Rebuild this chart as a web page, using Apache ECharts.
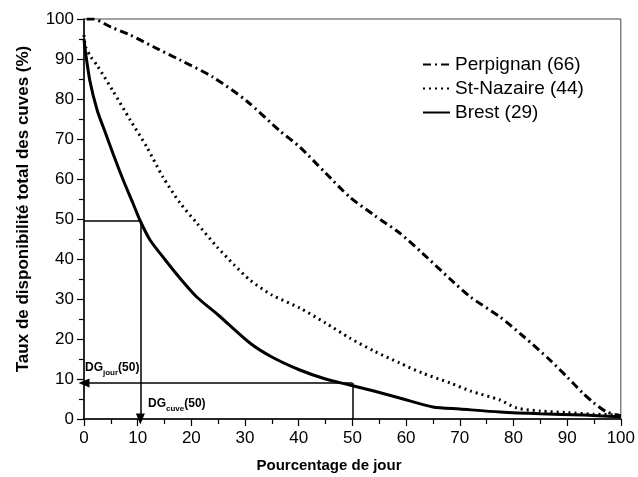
<!DOCTYPE html>
<html>
<head>
<meta charset="utf-8">
<script src="https://cdn.jsdelivr.net/npm/echarts@6/dist/echarts.min.js"></script>
<style>html,body{margin:0;padding:0;background:#fff;}#c{width:638px;height:477px;}</style>
</head>
<body>
<div id="c"></div>
<script>
// ---- data ----
var perpignanX = [0.5, 1.7, 5, 8.6, 13, 17.9, 24, 30.3, 36.5, 40.2, 45, 49.5, 54, 58.8, 63, 68.2, 72, 77.5, 82, 86.8, 90, 92.9, 95, 97.4, 100];
var perpignanY = [100, 100, 98, 96, 93, 89.75, 85.5, 79.5, 72, 68, 61.5, 55.5, 51, 46.5, 41.5, 35, 30.5, 25.5, 20.5, 14.75, 10.5, 6.5, 4, 1.75, 0.8];
var nazaireX = [0, 0.3, 1.3, 2.4, 5.4, 8.6, 11.7, 14.7, 17.9, 21, 24.8, 28, 30.9, 35, 40.2, 45, 49.5, 54, 58.8, 63, 68.2, 72, 77.5, 80.6, 85, 90, 95, 100];
var nazaireY = [96, 93, 90.5, 88.5, 82, 74.75, 68, 60.5, 54, 49, 43, 38.5, 34.75, 31, 27.75, 24, 20.25, 17, 14, 11.5, 9, 7, 4.75, 2.75, 2, 1.6, 1.2, 1];
var brestX = [0, 0.2, 1.1, 2.5, 4, 5.5, 7.3, 9.1, 10.4, 12.3, 15, 18, 21, 25, 30.9, 35, 40.2, 45, 49.5, 54, 58.8, 65, 70, 77.5, 85, 93, 100];
var brestY = [95, 92.5, 84.5, 77, 71.5, 66, 59.75, 54, 49.75, 44.75, 40, 35, 30.5, 26, 19, 15.5, 12.25, 10, 8.5, 7, 5.25, 3, 2.5, 1.75, 1.3, 1, 0.5];
var seriesNames = ['Perpignan (66)', 'St-Nazaire (44)', 'Brest (29)'];
// DG annotations: [percent of days, availability level]
var dgJour = [10.5, 49.5];
var dgCuve = [50, 9];

function pairs(xs, ys) { return xs.map(function (x, i) { return [x, ys[i]]; }); }

var chart = echarts.init(document.getElementById('c'));
var lineBase = { type: 'line', symbol: 'none', showSymbol: false, smooth: 0.25, silent: true };
var black = '#000';
var FF = 'Liberation Sans, Arial, sans-serif';

chart.setOption({
  animation: false,
  backgroundColor: '#fff',
  textStyle: { fontFamily: FF, color: black },
  grid: { left: 84, right: 17, top: 19, bottom: 58, show: true, borderColor: '#444', borderWidth: 1 },
  legend: {
    data: seriesNames,
    orient: 'vertical',
    left: 422, top: 55, padding: 0,
    itemWidth: 27, itemHeight: 10, itemGap: 5,
    itemStyle: { opacity: 0 },
    textStyle: { fontSize: 19, color: black, fontFamily: FF },
    selectedMode: false
  },
  xAxis: {
    type: 'value', min: 0, max: 100, interval: 10,
    axisLine: { lineStyle: { color: black, width: 1.5 } },
    axisTick: { length: 7, lineStyle: { color: black, width: 1.2 } },
    minorTick: { show: true, splitNumber: 2, length: 5, lineStyle: { color: black, width: 1.2 } },
    splitLine: { show: false },
    axisLabel: { fontSize: 17, color: black, margin: 11 }
  },
  yAxis: {
    type: 'value', min: 0, max: 100, interval: 10,
    axisLine: { lineStyle: { color: black, width: 1.5 } },
    axisTick: { length: 7, lineStyle: { color: black, width: 1.2 } },
    minorTick: { show: true, splitNumber: 2, length: 5, lineStyle: { color: black, width: 1.2 } },
    splitLine: { show: false },
    axisLabel: { fontSize: 17, color: black, margin: 10 }
  },
  graphic: [
    { type: 'text', x: 329, y: 458, style: { text: 'Pourcentage de jour', font: 'bold 15px ' + FF, fill: black, textAlign: 'center' } },
    { type: 'text', x: 23, y: 209, rotation: Math.PI / 2, style: { text: 'Taux de disponibilité total des cuves (%)', font: 'bold 17px ' + FF, fill: black, textAlign: 'center', textVerticalAlign: 'middle' } },
    { type: 'text', x: 85, y: 362, style: { text: '{a|DG}{b|jour}{a|(50)}', rich: {
        a: { fontSize: 12, fontWeight: 'bold', lineHeight: 12, verticalAlign: 'top', fill: black },
        b: { fontSize: 8, fontWeight: 'bold', lineHeight: 22, verticalAlign: 'middle', fill: black } } } },
    { type: 'text', x: 148, y: 398, style: { text: '{a|DG}{b|cuve}{a|(50)}', rich: {
        a: { fontSize: 12, fontWeight: 'bold', lineHeight: 12, verticalAlign: 'top', fill: black },
        b: { fontSize: 8, fontWeight: 'bold', lineHeight: 22, verticalAlign: 'middle', fill: black } } } }
  ],
  series: [
    Object.assign({}, lineBase, { name: seriesNames[0], data: pairs(perpignanX, perpignanY), z: 3,
      lineStyle: { color: black, width: 3, type: [8, 4, 2, 4] }, itemStyle: { color: black } }),
    Object.assign({}, lineBase, { name: seriesNames[1], data: pairs(nazaireX, nazaireY), z: 3,
      lineStyle: { color: black, width: 3, type: [2, 4] }, itemStyle: { color: black } }),
    Object.assign({}, lineBase, { name: seriesNames[2], data: pairs(brestX, brestY), z: 3,
      lineStyle: { color: black, width: 3, type: 'solid' }, itemStyle: { color: black } }),
    {
      type: 'line', name: 'annot', data: [], silent: true,
      markLine: {
        silent: true, animation: false,
        label: { show: false },
        lineStyle: { color: black, width: 1.5, type: 'solid' },
        symbolSize: [9, 11],
        data: [
          [{ coord: [0, dgJour[1]], symbol: 'none' }, { coord: [dgJour[0], dgJour[1]], symbol: 'none' }],
          [{ coord: [dgJour[0], dgJour[1]], symbol: 'none' }, { coord: [dgJour[0], 0], symbol: 'triangle' }],
          [{ coord: [dgCuve[0], 0], symbol: 'none' }, { coord: [dgCuve[0], dgCuve[1]], symbol: 'none' }],
          [{ coord: [dgCuve[0], dgCuve[1]], symbol: 'none' }, { coord: [0, dgCuve[1]], symbol: 'triangle' }]
        ]
      }
    }
  ]
});
</script>
</body>
</html>
